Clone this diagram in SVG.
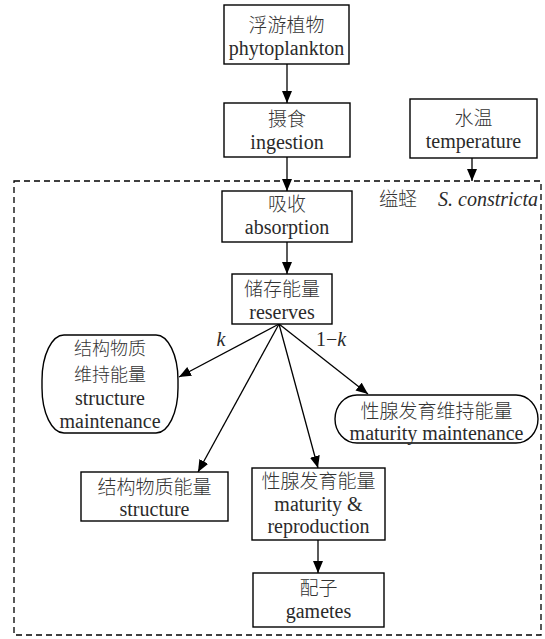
<svg xmlns="http://www.w3.org/2000/svg" width="545" height="639" viewBox="0 0 545 639">
<style>
.box{fill:#fff;stroke:#000;stroke-width:1.4}
.t{font-family:"Liberation Serif","Times New Roman",serif;font-size:20px;text-anchor:middle;fill:#2a2a2a}
.c{font-family:"Noto Sans CJK SC","Liberation Serif",sans-serif;font-size:19px;text-anchor:middle;fill:#333;font-weight:300}
.i{font-style:italic}
.con line{stroke:#000;stroke-width:1.3;marker-end:url(#ah)}
</style>
<defs>
<marker id="ah" markerUnits="userSpaceOnUse" markerWidth="12" markerHeight="10" viewBox="0 0 12 10" refX="12" refY="5" orient="auto">
<path d="M0,0 L12,5 L0,10 Z" fill="#000"/>
</marker>
</defs>
<rect width="545" height="639" fill="#fff"/>
<g id="cluster">
<rect x="14" y="181" width="527" height="454" fill="none" stroke="#000" stroke-width="1.3" stroke-dasharray="6,4"/>
<text class="c" x="398" y="206">缢蛏</text>
<text class="t i" x="488" y="206">S. constricta</text>
</g>
<g class="con" id="connectors">
<line x1="287" y1="64" x2="287" y2="103"/>
<line x1="287" y1="157" x2="287" y2="191"/>
<line x1="472" y1="158" x2="472" y2="181"/>
<line x1="287" y1="242" x2="287" y2="274"/>
<line x1="279" y1="324" x2="179" y2="377"/>
<line x1="279" y1="324" x2="198" y2="472"/>
<line x1="279" y1="324" x2="318" y2="468"/>
<line x1="279" y1="324" x2="368" y2="394"/>
<line x1="318" y1="540" x2="318" y2="573"/>
<text class="t i" x="221" y="346">k</text>
<text class="t" x="331" y="346">1−<tspan class="i">k</tspan></text>
</g>
<g id="phytoplankton">
<rect class="box" x="224" y="5" width="125" height="59"/>
<text class="c" x="286.5" y="32">浮游植物</text>
<text class="t" x="286.5" y="55">phytoplankton</text>
</g>
<g id="ingestion">
<rect class="box" x="224" y="103" width="126" height="54"/>
<text class="c" x="287" y="126">摄食</text>
<text class="t" x="287" y="149">ingestion</text>
</g>
<g id="temperature">
<rect class="box" x="410" y="99" width="127" height="59"/>
<text class="c" x="473.5" y="125">水温</text>
<text class="t" x="473.5" y="148">temperature</text>
</g>
<g id="absorption">
<rect class="box" x="222" y="191" width="130" height="51"/>
<text class="c" x="287" y="211">吸收</text>
<text class="t" x="287" y="234">absorption</text>
</g>
<g id="reserves">
<rect class="box" x="232" y="274" width="100" height="50"/>
<text class="c" x="282" y="296">储存能量</text>
<text class="t" x="282" y="319">reserves</text>
</g>
<g id="structure_maintenance">
<rect class="box" x="42" y="335" width="136" height="98" rx="22" ry="45"/>
<text class="c" x="110" y="355" style="font-size:18px">结构物质</text>
<text class="c" x="110" y="381" style="font-size:18px">维持能量</text>
<text class="t" x="110" y="405">structure</text>
<text class="t" x="110" y="428">maintenance</text>
</g>
<g id="maturity_maintenance">
<rect class="box" x="335" y="395" width="203" height="48" rx="22" ry="24"/>
<text class="c" x="436.5" y="418">性腺发育维持能量</text>
<text class="t" x="436.5" y="440">maturity maintenance</text>
</g>
<g id="structure">
<rect class="box" x="81" y="472" width="147" height="49"/>
<text class="c" x="154.5" y="494">结构物质能量</text>
<text class="t" x="154.5" y="516">structure</text>
</g>
<g id="maturity_reproduction">
<rect class="box" x="252" y="468" width="133" height="72"/>
<text class="c" x="318.5" y="488">性腺发育能量</text>
<text class="t" x="318.5" y="511">maturity &amp;</text>
<text class="t" x="318.5" y="533">reproduction</text>
</g>
<g id="gametes">
<rect class="box" x="253" y="573" width="131" height="54"/>
<text class="c" x="318.5" y="595">配子</text>
<text class="t" x="318.5" y="618">gametes</text>
</g>
</svg>
